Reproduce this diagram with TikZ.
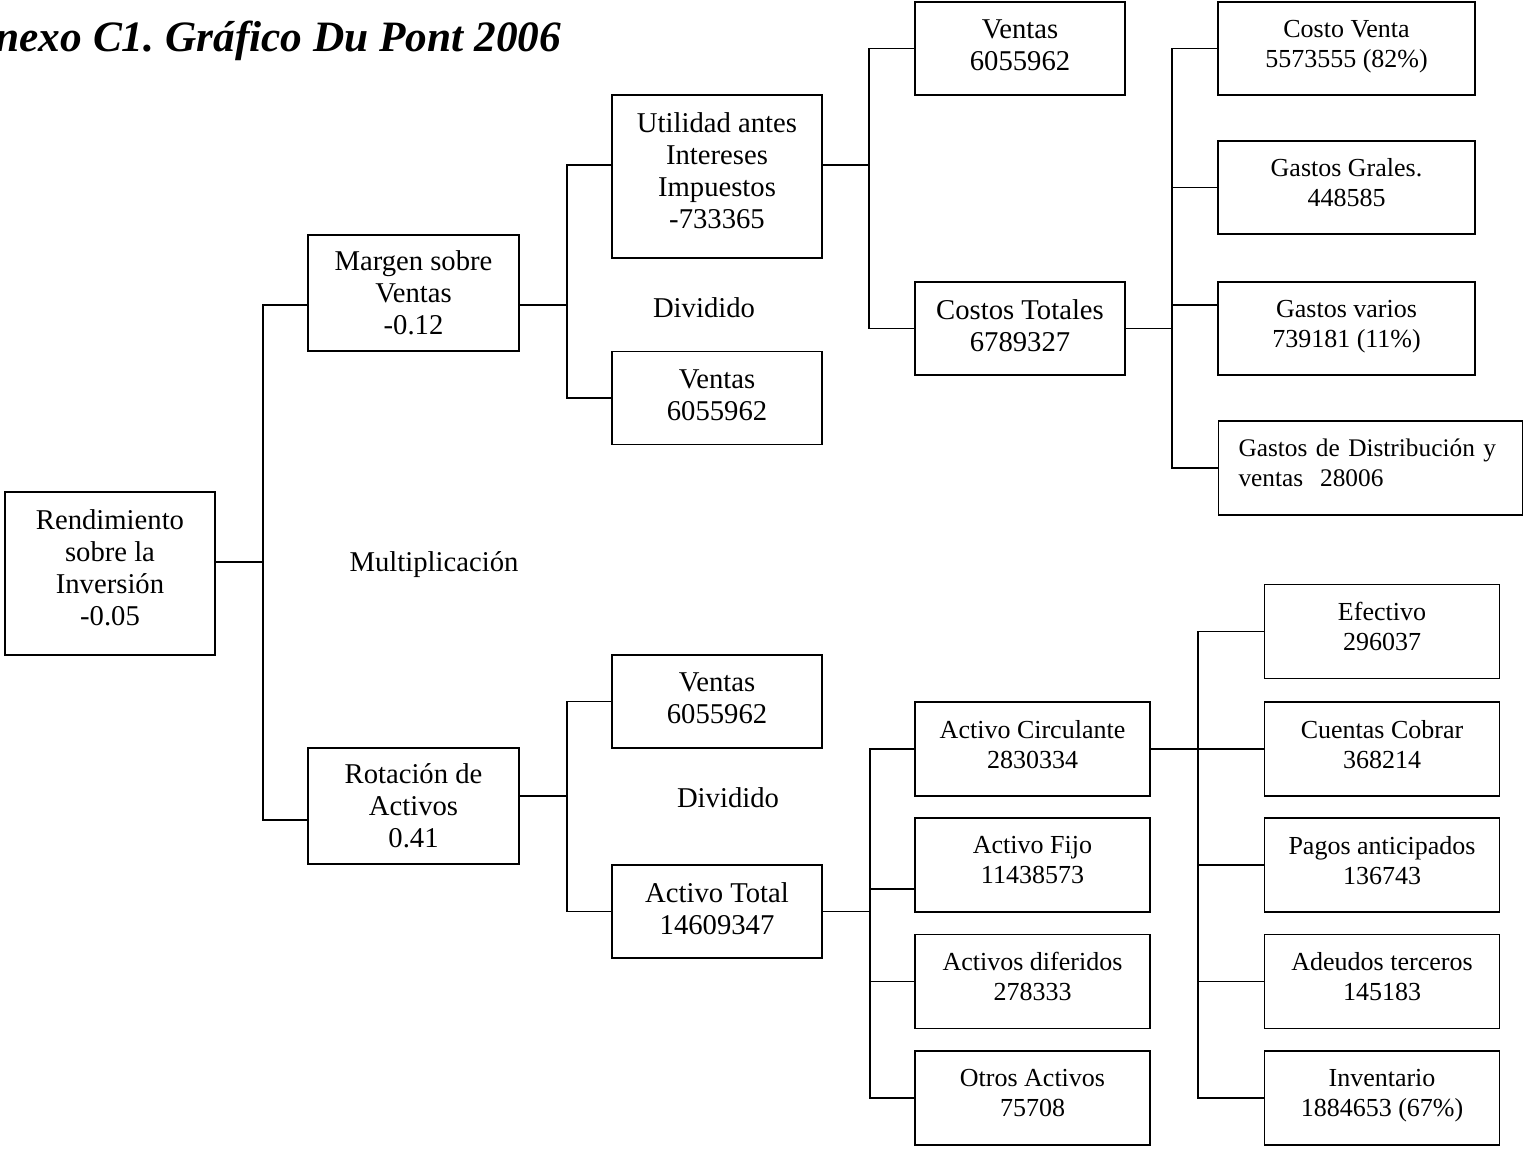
\documentclass[tikz,border=0pt]{standalone}
\usepackage{fontspec}
\setmainfont{Liberation Serif}
\usetikzlibrary{calc}

\begin{document}
\begin{tikzpicture}[x=0.75pt,y=0.75pt,yscale=-1,xscale=1,
  subir/.style={execute at end node={\rule[-#1]{0pt}{0pt}}},
  bajar/.style={execute at begin node={\rule{0pt}{#1}}},
  cajabase/.style={draw, line width=1.4pt, align=center, inner sep=2pt,
    minimum width=157.5pt, minimum height=69.75pt,
    font=\fontsize{21.5}{24}\selectfont},
  caja/.style={cajabase, subir=4.5pt},
  cajaalta/.style={cajabase, minimum height=122.25pt, subir=8.5pt},
  cajamedia/.style={cajabase, minimum width=158.25pt, minimum height=87pt, bajar=18pt},
  cajagasto/.style={cajabase, minimum width=192.75pt,
    font=\fontsize{19.5}{22.5}\selectfont, subir=7.5pt},
  cajaactivo/.style={cajabase, minimum width=176.25pt, minimum height=70.5pt,
    font=\fontsize{19.5}{22.5}\selectfont, subir=7.5pt},
  rotulo/.style={font=\fontsize{21.5}{24}\selectfont},
  linea/.style={line width=1.4pt}]
\useasboundingbox (0,0) rectangle (1524,1149);

% Title
\node [anchor=base east, font=\fontsize{32.5}{38}\selectfont\bfseries\itshape] (titulo) at (566,52) {Anexo C1.\ Gráfico Du Pont 2006};

% Level 1
\node [cajaalta] (rend) at (110,573.5) {Rendimiento\\sobre la\\Inversión\\-0.05};

% Level 2
\node [cajamedia] (marg) at (413.5,293) {Margen sobre\\Ventas\\-0.12};
\node [cajamedia] (rot) at (413.5,806) {Rotación de\\Activos\\0.41};
\node [rotulo] (mult) at (434,565) {Multiplicación};

% Level 3
\node [cajaalta] (util) at (717,176.5) {Utilidad antes\\Intereses\\Impuestos\\-733365};
\node [caja] (vm) at (717,398) {Ventas\\6055962};
\node [rotulo] (div1) at (704,308) {Dividido};
\node [caja] (vl) at (717,701.5) {Ventas\\6055962};
\node [caja] (at) at (717,911.5) {Activo Total\\14609347};
\node [rotulo] (div2) at (728,798) {Dividido};

% Level 4
\node [caja] (vt) at (1020,48.5) {Ventas\\6055962};
\node [caja] (ct) at (1020,328.5) {Costos Totales\\6789327};
\node [cajaactivo] (ac) at (1032.5,749) {Activo Circulante\\2830334};
\node [cajaactivo] (af) at (1032.5,865) {Activo Fijo\\11438573};
\node [cajaactivo] (adif) at (1032.5,981.5) {Activos diferidos\\278333};
\node [cajaactivo] (oa) at (1032.5,1098) {Otros Activos\\75708};

% Level 5
\node [cajagasto] (cv) at (1346.5,48.5) {Costo Venta\\5573555 (82\%)};
\node [cajagasto] (gg) at (1346.5,187.5) {Gastos Grales.\\448585};
\node [cajagasto] (gv) at (1346.5,328.5) {Gastos varios\\739181 (11\%)};
\node [cajagasto, minimum width=228pt, minimum height=70.5pt, inner xsep=15pt,
  text width=198pt, align=left, font=\fontsize{19}{22.5}\selectfont] (gd) at (1370.5,468) {\mbox{Gastos de Distribución y}\\ventas\ \ 28006};
\node [cajaactivo] (ef) at (1382,631.5) {Efectivo\\296037};
\node [cajaactivo] (cc) at (1382,749) {Cuentas Cobrar\\368214};
\node [cajaactivo] (pa) at (1382,865) {Pagos anticipados\\136743};
\node [cajaactivo] (adt) at (1382,981.5) {Adeudos terceros\\145183};
\node [cajaactivo] (inv) at (1382,1098) {Inventario\\1884653 (67\%)};

% Connectors
\draw [linea] ($(rend.east)+(0,-11.5)$) -- ++(47,0) coordinate (j1);
\draw [linea] (j1) |- ($(marg.west)+(0,12)$);
\draw [linea] (j1) |- ($(rot.west)+(0,14)$);

\draw [linea] ($(marg.east)+(0,12)$) -- ++(47,0) coordinate (j2);
\draw [linea] (j2) |- ($(util.west)+(0,-11.5)$);
\draw [linea] (j2) |- (vm.west);

\draw [linea] ($(util.east)+(0,-11.5)$) -- ++(46,0) coordinate (j3);
\draw [linea] (j3) |- (vt.west);
\draw [linea] (j3) |- (ct.west);

\draw [linea] (ct.east) -- ++(46,0) coordinate (j4);
\draw [linea] (j4) |- (cv.west);
\draw [linea] (j4) |- (gg.west);
\draw [linea] (j4) |- ($(gv.west)+(0,-23.5)$);
\draw [linea] (j4) |- (gd.west);

\draw [linea] ($(rot.east)+(0,-10)$) -- ++(47,0) coordinate (j5);
\draw [linea] (j5) |- (vl.west);
\draw [linea] (j5) |- (at.west);

\draw [linea] (at.east) -- ++(47,0) coordinate (j6);
\draw [linea] (j6) |- (ac.west);
\draw [linea] (j6) |- ($(af.west)+(0,24)$);
\draw [linea] (j6) |- (adif.west);
\draw [linea] (j6) |- (oa.west);

\draw [linea] (ac.east) -- ++(47,0) coordinate (j7);
\draw [linea] (j7) |- (ef.west);
\draw [linea] (j7) |- (cc.west);
\draw [linea] (j7) |- (pa.west);
\draw [linea] (j7) |- (adt.west);
\draw [linea] (j7) |- (inv.west);

\end{tikzpicture}
\end{document}
